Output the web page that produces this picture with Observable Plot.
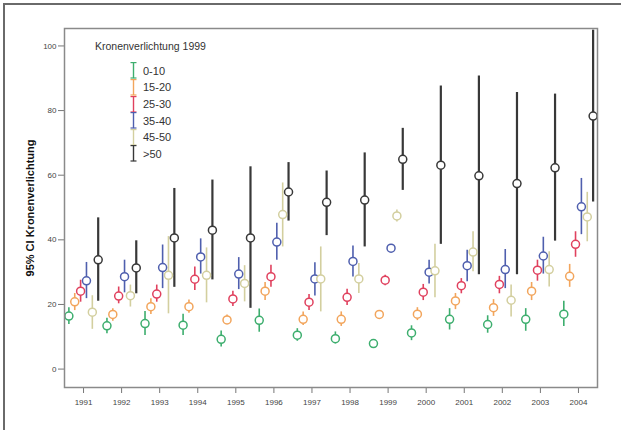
<!DOCTYPE html>
<html>
<head>
<meta charset="utf-8">
<script src="https://cdn.jsdelivr.net/npm/d3@7"></script>
<script src="https://cdn.jsdelivr.net/npm/@observablehq/plot@0.6"></script>
<style>
  html, body { margin: 0; padding: 0; background: #fff; }
  #wrap { position: relative; width: 621px; height: 430px; overflow: hidden; font-family: "Liberation Sans", Arial, sans-serif; }
  #border { position: absolute; left: 3px; top: 3px; width: 700px; height: 500px; border-top: 2px solid #6a6a6a; border-left: 2px solid #6a6a6a; pointer-events: none; }
  #chart { position: absolute; left: 0; top: 0; }
  #legend { position: absolute; left: 0; top: 0; width: 621px; height: 430px; pointer-events: none; }
  .ltitle { position: absolute; left: 95px; top: 40px; font-size: 10.5px; line-height: 12px; color: #333; white-space: nowrap; }
  .litem { position: absolute; left: 143px; font-size: 11px; line-height: 12px; color: #333; white-space: nowrap; }
  .lglyph { position: absolute; left: 130px; }
</style>
</head>
<body>
<div id="wrap">
  <div id="chart"></div>
  <div id="legend"></div>
  <div id="border"></div>
</div>
<script>
// ---- data ----
const years = [1991, 1992, 1993, 1994, 1995, 1996, 1997, 1998, 1999, 2000, 2001, 2002, 2003, 2004];
const groups = ["0-10", "15-20", "25-30", "35-40", "45-50", ">50"];
const colors = ["#3dae6e", "#f2a55c", "#e0415e", "#4f5fae", "#d3cf9f", "#383838"];
const yTicks = [0, 20, 40, 60, 80, 100];
const legendTitle = "Kronenverlichtung 1999";
const yLabel = "95% CI Kronenverlichtung";

const mean_0_10  = [16.4, 13.4, 14.1, 13.6, 9.2, 15.1, 10.5, 9.4, 7.9, 11.2, 15.4, 13.8, 15.4, 17.0];
const lo_0_10    = [13.8, 10.9, 10.4, 10.4, 6.8, 11.4, 8.6, 7.8, 7.0, 8.8, 12.1, 11.1, 11.7, 13.2];
const hi_0_10    = [19.0, 15.7, 17.8, 17.0, 11.8, 18.6, 12.5, 11.5, 8.8, 13.4, 18.7, 16.5, 18.7, 21.0];

const mean_15_20 = [20.8, 16.9, 19.3, 19.3, 15.2, 24.1, 15.4, 15.4, 16.9, 17.0, 21.1, 19.0, 24.1, 28.7];
const lo_15_20   = [18.1, 14.8, 16.9, 17.3, 13.8, 21.2, 13.5, 13.2, 16.0, 15.0, 18.4, 16.3, 21.2, 25.3];
const hi_15_20   = [23.4, 18.7, 21.8, 21.4, 16.7, 26.8, 17.7, 17.7, 17.8, 19.0, 23.4, 21.5, 26.8, 32.4];

const mean_25_30 = [24.1, 22.6, 23.2, 27.8, 21.7, 28.6, 20.7, 22.2, 27.5, 23.8, 25.8, 26.2, 30.6, 38.6];
const lo_25_30   = [20.7, 20.2, 20.7, 24.3, 19.4, 25.3, 18.1, 19.7, 25.8, 21.2, 23.3, 23.3, 27.2, 34.6];
const hi_25_30   = [27.5, 25.4, 26.0, 31.6, 24.1, 32.1, 23.1, 24.7, 29.0, 26.2, 28.0, 28.7, 33.7, 42.5];

const mean_35_40 = [27.3, 28.6, 31.4, 34.7, 29.4, 39.3, 27.9, 33.3, 37.4, 30.0, 32.0, 30.8, 35.0, 50.2];
const lo_35_40   = [21.8, 23.6, 24.9, 29.4, 24.6, 33.7, 22.6, 28.5, 36.4, 26.3, 27.0, 24.9, 29.4, 41.6];
const hi_35_40   = [33.0, 33.7, 38.4, 40.3, 34.5, 45.1, 32.9, 38.1, 38.3, 33.7, 36.8, 37.0, 40.8, 59.0];

const mean_45_50 = [17.6, 22.7, 29.0, 29.0, 26.5, 47.8, 27.9, 27.9, 47.4, 30.4, 36.2, 21.3, 30.8, 47.1];
const lo_45_50   = [12.3, 19.2, 17.1, 20.5, 20.8, 37.8, 17.7, 23.4, 45.5, 22.1, 30.1, 16.1, 25.4, 39.4];
const hi_45_50   = [22.7, 26.0, 41.0, 37.5, 32.0, 57.6, 37.8, 32.7, 49.2, 38.6, 42.5, 26.0, 36.3, 54.7];

const mean_gt50  = [33.8, 31.3, 40.6, 43.0, 40.6, 54.8, 51.6, 52.3, 64.9, 63.1, 59.8, 57.4, 62.3, 78.3];
const lo_gt50    = [21.0, 23.3, 25.3, 27.6, 18.8, 45.8, 41.3, 37.8, 55.3, 38.6, 29.2, 29.2, 39.6, 51.7];
const hi_gt50    = [46.8, 39.7, 55.9, 58.5, 62.6, 63.9, 61.3, 66.9, 74.5, 87.6, 90.7, 85.6, 85.1, 104.9];

const means = [mean_0_10, mean_15_20, mean_25_30, mean_35_40, mean_45_50, mean_gt50];
const lows  = [lo_0_10, lo_15_20, lo_25_30, lo_35_40, lo_45_50, lo_gt50];
const highs = [hi_0_10, hi_15_20, hi_25_30, hi_35_40, hi_45_50, hi_gt50];

// table for the library
const rows = [];
groups.forEach((g, gi) => {
  years.forEach((yr, yi) => {
    rows.push({year: yr, group: g, gi, mean: means[gi][yi], lo: lows[gi][yi], hi: highs[gi][yi]});
  });
});

// dodge groups within each year (fraction of a year per group)
const groupStep = 0.154;
const xPos = d => d.year + (d.gi - (groups.length - 1) / 2) * groupStep;

const chart = Plot.plot({
  width: 621,
  height: 430,
  marginLeft: 64,
  marginRight: 24,
  marginTop: 28,
  marginBottom: 43,
  style: {fontFamily: "'Liberation Sans', Arial, sans-serif", fontSize: "8px", color: "#444", background: "transparent"},
  x: {domain: [1990.5, 2004.5]},
  y: {domain: [-5.7, 105.4]},
  color: {domain: groups, range: colors},
  marks: [
    Plot.axisY({ticks: yTicks, tickSize: 6, tickPadding: 2, label: null, stroke: "#777"}),
    Plot.axisX({ticks: years, tickFormat: d => String(d), tickSize: 6, tickPadding: 6, label: null, stroke: "#777"}),
    Plot.ruleX(rows, {
      x: xPos, y1: "lo", y2: "hi", stroke: "group",
      strokeWidth: d => d.group === ">50" ? 2.2 : 1.6
    }),
    Plot.dot(rows, {
      x: xPos, y: "mean", stroke: "group", fill: "white", r: 4, strokeWidth: 1.5
    }),
    Plot.frame({stroke: "#8a8a8a", strokeWidth: 1.5}),
    Plot.text([yLabel], {
      frameAnchor: "left", rotate: -90, dx: -34, textAnchor: "middle",
      fontWeight: "bold", fontSize: 11, fill: "#111"
    })
  ]
});
document.getElementById("chart").appendChild(chart);

// legend (HTML overlay)
const legend = d3.select("#legend");
legend.append("div").attr("class", "ltitle").text(legendTitle);
const pitch = 16.6, firstY = 70.7;
groups.forEach((g, i) => {
  const cy = firstY + i * pitch;
  const svg = legend.append("svg").attr("class", "lglyph")
    .attr("width", 7).attr("height", pitch)
    .style("top", (cy - pitch / 2) + "px");
  const c = colors[i];
  svg.append("line").attr("x1", 3.5).attr("x2", 3.5).attr("y1", 0.5).attr("y2", pitch - 0.5).attr("stroke", c).attr("stroke-width", 1.4);
  svg.append("line").attr("x1", 0.5).attr("x2", 6.5).attr("y1", 0.6).attr("y2", 0.6).attr("stroke", c).attr("stroke-width", 1.2);
  svg.append("line").attr("x1", 0.5).attr("x2", 6.5).attr("y1", pitch - 0.6).attr("y2", pitch - 0.6).attr("stroke", c).attr("stroke-width", 1.2);
  legend.append("div").attr("class", "litem").style("top", (cy - 6) + "px").text(g);
});
</script>
</body>
</html>
